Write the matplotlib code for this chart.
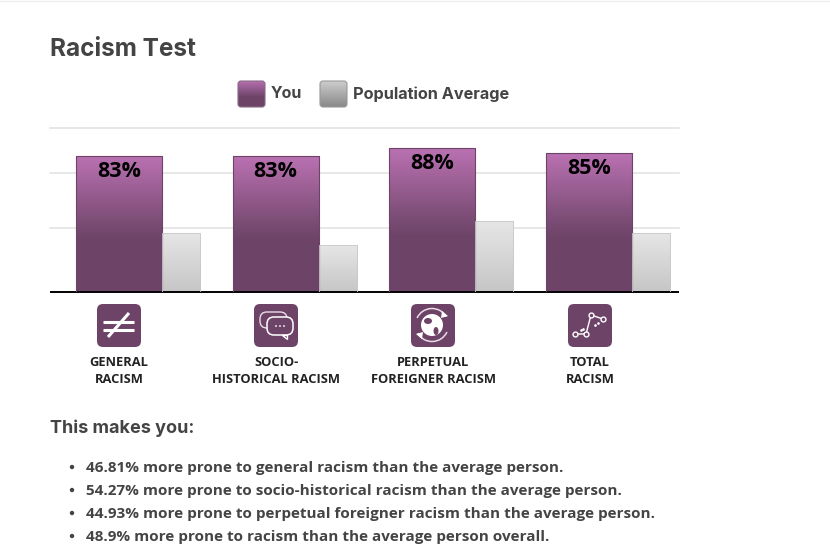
import numpy as np
import matplotlib
matplotlib.use('Agg')
import matplotlib.pyplot as plt
from matplotlib.colors import LinearSegmentedColormap
from matplotlib.patches import FancyBboxPatch, Rectangle, Circle, Ellipse, Polygon, Arc

categories = ['GENERAL\nRACISM', 'SOCIO-\nHISTORICAL RACISM', 'PERPETUAL\nFOREIGNER RACISM', 'TOTAL\nRACISM']
you = [83, 83, 88, 85]
population = [36, 28.5, 43, 36]
grid_values = [39, 72.5, 100]
title = 'Racism Test'
legend_labels = ['You', 'Population Average']
subtitle = 'This makes you:'
bullets = [
    '46.81% more prone to general racism than the average person.',
    '54.27% more prone to socio-historical racism than the average person.',
    '44.93% more prone to perpetual foreigner racism than the average person.',
    '48.9% more prone to racism than the average person overall.',
]

W, H = 830, 545
PURPLE = '#6d4468'
DARK = '#444444'
purple_cm = LinearSegmentedColormap.from_list('p', [(0, '#bb72b3'), (0.5, '#7a4c74'), (0.62, PURPLE), (1, PURPLE)])
grey_cm = LinearSegmentedColormap.from_list('g', ['#e6e6e6', '#c6c6c6'])
legend_purple = LinearSegmentedColormap.from_list('lp', [(0, '#bb72b3'), (0.6, PURPLE), (1, PURPLE)])
legend_grey = LinearSegmentedColormap.from_list('lg', ['#d0d0d0', '#858585'])
grad = np.linspace(0, 1, 256).reshape(-1, 1)

fig = plt.figure(figsize=(W / 100, H / 100), dpi=100)

# chart axes, baseline at y=292, 100% at y=128
ax = fig.add_axes([50 / W, 1 - 292 / H, 629 / W, 164 / H])
ax.set_xlim(-0.5, 3.515)
ax.set_ylim(0, 100)
for s in ['top', 'left', 'right']:
    ax.spines[s].set_visible(False)
ax.spines['bottom'].set_linewidth(1.4)
ax.spines['bottom'].set_color('black')
ax.spines['bottom'].set_capstyle('butt')
ax.set_xticks([])
ax.set_yticks(grid_values)
ax.tick_params(left=False, labelleft=False)
ax.grid(axis='y', color='#e0e0e0', lw=1.1)
for l in ax.get_ygridlines():
    l.set_clip_on(False)
ax.set_axisbelow(True)


def gradient_bars(xs, vals, width, cmap, edge, lw):
    bars = ax.bar(xs, vals, width, facecolor='none', edgecolor=edge, linewidth=lw, zorder=3)
    for b in bars:
        x0, w, h = b.get_x(), b.get_width(), b.get_height()
        im = ax.imshow(grad, extent=(x0, x0 + w, 0, h), aspect='auto', cmap=cmap, zorder=2)
        im.set_clip_path(Rectangle((x0, 0), w, h, transform=ax.transData))
    return bars


x = np.arange(len(categories))
you_bars = gradient_bars(x - 0.0596, you, 0.549, purple_cm, '#6d4468', 0.8)
gradient_bars(x + 0.336, population, 0.243, grey_cm, '#c8c8c8', 0.6)
ax.set_xlim(-0.5, 3.515)
ax.set_ylim(0, 100)

for b, v in zip(you_bars, you):
    ax.annotate(f'{v}%', (b.get_x() + b.get_width() / 2, v), xytext=(0, -3.8), textcoords='offset points',
                ha='center', va='top', fontsize=15.5, fontweight='bold', family='Open Sans', color='black', zorder=4)

# overlay in pixel coordinates for the page parts
pg = fig.add_axes([0, 0, 1, 1], zorder=5)
pg.set_xlim(0, W)
pg.set_ylim(H, 0)
pg.axis('off')
pg.patch.set_alpha(0)
pg.plot([0, W], [0.5, 0.5], color='#eeeeee', lw=1)

pg.text(50, 50, title, fontsize=17.5, fontweight='bold', family='Inter', color=DARK, va='center')

# legend
for bx, cm, ec, label, tx, fs in [(238, legend_purple, '#8a6a86', legend_labels[0], 271, 11.5),
                                  (320, legend_grey, '#999999', legend_labels[1], 353, 11.7)]:
    box = FancyBboxPatch((bx, 81), 27, 26, boxstyle='round,pad=0,rounding_size=3', fc='none', ec=ec, lw=0.8, zorder=3)
    pg.add_patch(box)
    im = pg.imshow(grad, extent=(bx - 1, bx + 28, 108, 80), aspect='auto', cmap=cm, zorder=2)
    im.set_clip_path(box)
    pg.text(tx, 94, label, fontsize=fs, fontweight='bold', family='Inter', color=DARK, va='center')
pg.set_xlim(0, W)
pg.set_ylim(H, 0)

# icons and category labels
centers = [119, 276, 433, 590]
for cx, lab in zip(centers, categories):
    pg.add_patch(FancyBboxPatch((cx - 22, 304), 44, 43, boxstyle='round,pad=0,rounding_size=6', fc=PURPLE, ec='none'))
    pg.text(cx, 371, lab, fontsize=9.3, fontweight='bold', family='Open Sans', color='#222222',
            ha='center', va='center', linespacing=1.42)

# not equal sign
cx = centers[0]
pg.plot([cx - 16, cx + 15], [322, 322], color='white', lw=2.2, solid_capstyle='butt')
pg.plot([cx - 16, cx + 15], [330, 330], color='white', lw=2.2, solid_capstyle='butt')
pg.plot([cx - 11, cx + 10], [337, 313], color='white', lw=2.2, solid_capstyle='butt')

# speech bubbles
cx = centers[1]
pg.add_patch(FancyBboxPatch((cx - 16, 312), 27, 16, boxstyle='round,pad=0,rounding_size=7', fc='none', ec='#e8dde7', lw=1))
pg.add_patch(FancyBboxPatch((cx - 9, 317), 26, 18, boxstyle='round,pad=0,rounding_size=7', fc=PURPLE, ec='white', lw=1.1))
pg.add_patch(Polygon([[cx + 6, 335], [cx + 11, 335], [cx + 11, 339]], fc=PURPLE, ec='white', lw=1))
for dx in [0, 4, 8]:
    pg.add_patch(Circle((cx + dx, 326), 0.9, fc='white', ec='none'))

# globe with arrows
cx = centers[2] - 1
pg.add_patch(Arc((cx, 325), 33, 33, theta1=205, theta2=330, ec='#e8dde7', lw=1.1))
pg.add_patch(Arc((cx, 325), 33, 33, theta1=25, theta2=150, ec='#e8dde7', lw=1.1))
pg.add_patch(Circle((cx, 325), 11, fc='white', ec='none'))
pg.add_patch(Ellipse((cx - 4, 321), 8, 6, fc=PURPLE, ec='none'))
pg.add_patch(Ellipse((cx + 4, 331), 5, 8, fc=PURPLE, ec='none'))
pg.add_patch(Polygon([[cx + 10, 311], [cx + 16, 316], [cx + 9, 318]], fc='white', ec='none'))
pg.add_patch(Polygon([[cx - 10, 339], [cx - 16, 334], [cx - 9, 332]], fc='white', ec='none'))

# line chart icon
cx = centers[3]
pts_x = [cx - 15, cx - 4, cx + 1, cx + 13]
pts_y = [334, 334, 315, 319]
pg.plot(pts_x, pts_y, color='white', lw=1, marker='o', ms=3.5, mfc=PURPLE, mec='white', mew=1)
pg.plot([cx - 9, cx - 7, cx + 5, cx + 8], [330, 329, 325, 323], ls='none', marker='o', ms=0.9, color='white')

pg.text(50, 428, subtitle, fontsize=13, fontweight='bold', family='Inter', color=DARK, va='center')
for y, line in zip([467, 490, 513, 536], bullets):
    pg.add_patch(Circle((72, y), 2.2, fc=DARK, ec='none'))
    pg.text(86, y + 1, line, fontsize=10.95, fontweight='bold', family='Open Sans', color=DARK, va='center')

fig.savefig('out.png', dpi=100)
